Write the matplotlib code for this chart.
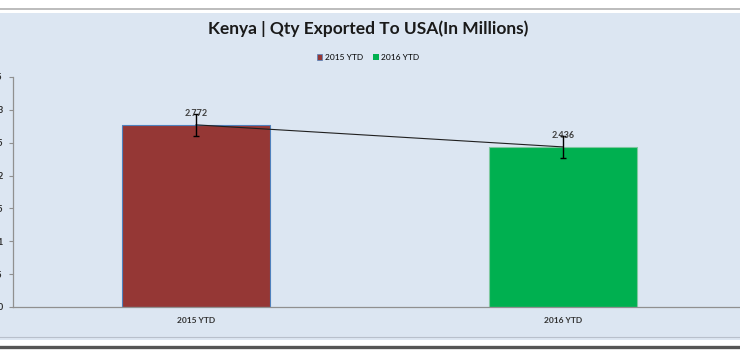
import matplotlib.pyplot as plt
from matplotlib.patches import Rectangle

plt.rcParams['font.family'] = ['Lato', 'DejaVu Sans']

categories = ['2015 YTD', '2016 YTD']
values = [2.772, 2.436]
errors = [0.17, 0.17]
bar_colors = ['#953735', '#00b050']
y_ticks = [0, 0.5, 1, 1.5, 2, 2.5, 3, 3.5]

fig = plt.figure(figsize=(7.4, 3.5), dpi=100)
fig.patch.set_facecolor('white')

# chart background panel (light blue) with borders
fig.patches.append(Rectangle((0, 10 / 350), 1, 327 / 350, transform=fig.transFigure,
                             facecolor='#dce6f2', edgecolor='none', zorder=-5))
fig.add_artist(plt.Line2D([0, 1], [1 - 8.5 / 350] * 2, color='#b0b0b0', lw=1.2))
fig.add_artist(plt.Line2D([0, 1], [1 - 337 / 350] * 2, color='#b8c0cc', lw=0.8))
fig.add_artist(plt.Line2D([0, 1], [1 - 347 / 350] * 2, color='#555555', lw=2.4))

ax = fig.add_axes([12.5 / 740, 1 - 307 / 350, 734 / 740, 230 / 350])
ax.set_facecolor('none')

x = list(range(len(categories)))
ax.bar(x, values, width=0.405, color=bar_colors, edgecolor=['#4f81bd', '#7fc8a0'],
       linewidth=0.8, zorder=2)
ax.errorbar(x, values, yerr=errors, fmt='none', ecolor='black', elinewidth=1,
            capsize=2.5, capthick=1, zorder=4)
ax.plot(x, values, color='#202020', linewidth=0.8, zorder=3)

for xi, v in zip(x, values):
    ax.text(xi, v + 0.11, f'{v:.3f}', ha='center', va='bottom', fontsize=6.5,
            fontweight='bold', color='#404040', zorder=5)

ax.set_xlim(-0.5, 1.5)
ax.set_ylim(0, 3.5)
ax.set_yticks(y_ticks)
ax.set_yticklabels([f'{t:g}' for t in y_ticks], fontsize=6.5, fontweight='bold',
                   color='#303030')
ax.set_xticks(x)
ax.set_xticklabels(categories, fontsize=6, fontweight='bold', color='#303030')
ax.tick_params(axis='y', length=3, width=0.8, color='#909090', pad=4)
ax.tick_params(axis='x', length=0, pad=7.5)
for side in ['top', 'right']:
    ax.spines[side].set_visible(False)
for side in ['left', 'bottom']:
    ax.spines[side].set_color('#909090')
    ax.spines[side].set_linewidth(0.9)

fig.text(368 / 740, 1 - 29 / 350, 'Kenya | Qty Exported To USA(In Millions)',
         ha='center', va='center', fontsize=12.5, fontweight='bold', color='#1a1a1a')

handles = [Rectangle((0, 0), 1, 1, facecolor=c, edgecolor='#4f81bd' if i == 0 else 'none',
                     linewidth=0.5) for i, c in enumerate(bar_colors)]
fig.legend(handles, categories, loc='center', bbox_to_anchor=(368 / 740, 1 - 57 / 350),
           ncol=2, frameon=False, fontsize=6, handlelength=0.7, handleheight=0.7,
           handletextpad=0.3, columnspacing=1.2)

fig.savefig('out.png', dpi=100)
